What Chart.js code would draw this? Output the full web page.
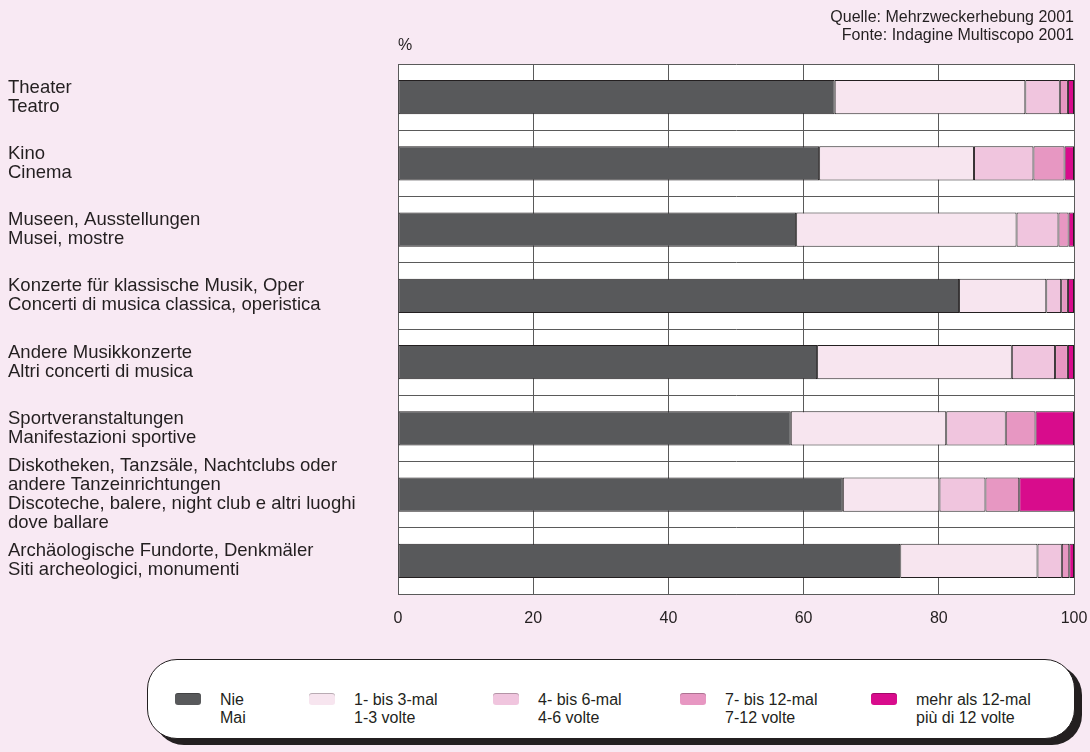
<!DOCTYPE html>
<html>
<head>
<meta charset="utf-8">
<script src="https://cdn.jsdelivr.net/npm/chart.js@4/dist/chart.umd.min.js"></script>
<style>
  html, body { margin: 0; padding: 0; }
  body {
    width: 1090px; height: 752px; position: relative; overflow: hidden;
    background: #f8e9f3; font-family: "Liberation Sans", Arial, sans-serif; color: #231f20;
  }
  #wrap { position: absolute; left: 0; top: 0; width: 1090px; height: 650px; }
  #source { position: absolute; right: 16px; top: 8px; text-align: right; font-size: 16px; line-height: 18px; }
  #unit { position: absolute; left: 398px; top: 36px; font-size: 16px; }
  #legend {
    position: absolute; left: 147px; top: 659px; width: 928px; height: 80px;
    background: #fff; border: 1.5px solid #231f20; border-radius: 30px;
    box-shadow: 7px 6px 0 #231f20;
    display: grid; grid-template-columns: 134px 184px 187px 191px auto;
    padding-left: 27px; box-sizing: border-box; align-items: start; padding-top: 31px;
  }
  .item { display: flex; align-items: flex-start; font-size: 16px; line-height: 18px; }
  .sw { width: 26px; height: 12px; border-radius: 3px; margin-top: 2px; margin-right: 19px;
        box-shadow: inset 0 1px 0 rgba(0,0,0,0.25); }
</style>
</head>
<body>
<div id="wrap"><canvas id="chart"></canvas></div>
<div id="unit">%</div>
<div id="source">Quelle: Mehrzweckerhebung 2001<br>Fonte: Indagine Multiscopo 2001</div>
<div id="legend"></div>
<script>
const categories = [
  ['Theater', 'Teatro'],
  ['Kino', 'Cinema'],
  ['Museen, Ausstellungen', 'Musei, mostre'],
  ['Konzerte für klassische Musik, Oper', 'Concerti di musica classica, operistica'],
  ['Andere Musikkonzerte', 'Altri concerti di musica'],
  ['Sportveranstaltungen', 'Manifestazioni sportive'],
  ['Diskotheken, Tanzsäle, Nachtclubs oder', 'andere Tanzeinrichtungen', 'Discoteche, balere, night club e altri luoghi', 'dove ballare'],
  ['Archäologische Fundorte, Denkmäler', 'Siti archeologici, monumenti']
];

const seriesLabels = [
  ['Nie', 'Mai'],
  ['1- bis 3-mal', '1-3 volte'],
  ['4- bis 6-mal', '4-6 volte'],
  ['7- bis 12-mal', '7-12 volte'],
  ['mehr als 12-mal', 'più di 12 volte']
];

const nie       = [64.6, 62.3, 58.9, 83.0, 62.0, 58.1, 65.8, 74.3];
const mal1to3   = [28.2, 22.9, 32.6, 12.9, 28.8, 23.0, 14.3, 20.3];
const mal4to6   = [5.1, 8.8, 6.2, 2.2, 6.4, 8.8, 6.8, 3.6];
const mal7to12  = [1.2, 4.6, 1.5, 1.0, 1.9, 4.4, 5.0, 1.1];
const mehrAls12 = [0.9, 1.4, 0.8, 0.9, 0.9, 5.7, 8.1, 0.7];

const xTicks = [0, 20, 40, 60, 80, 100];

const colors = ['#58595b', '#f7e5ef', '#f0c5de', '#e797c2', '#d80c8c'];
const values = [nie, mal1to3, mal4to6, mal7to12, mehrAls12];

const plotBackground = {
  id: 'plotBackground',
  beforeDraw(chart) {
    const { ctx, chartArea: a } = chart;
    ctx.save();
    ctx.fillStyle = '#ffffff';
    ctx.fillRect(a.left, a.top, a.right - a.left, a.bottom - a.top);
    ctx.restore();
  }
};

const chart = new Chart(document.getElementById('chart'), {
  type: 'bar',
  data: {
    labels: categories,
    datasets: values.map((v, i) => ({
      label: seriesLabels[i].join(' / '),
      data: v,
      backgroundColor: colors[i],
      borderColor: '#231f20',
      borderWidth: 1,
      borderSkipped: false,
      barPercentage: 0.515,
      categoryPercentage: 1
    }))
  },
  options: {
    indexAxis: 'y',
    responsive: true,
    maintainAspectRatio: false,
    animation: false,
    layout: { padding: { left: 8, right: 16, top: 64, bottom: 16 } },
    plugins: { legend: { display: false }, tooltip: { enabled: false } },
    scales: {
      x: {
        stacked: true,
        min: 0,
        max: 100,
        afterBuildTicks: s => { s.ticks = xTicks.map(v => ({ value: v })); },
        afterFit: s => { s.height = 40; s.paddingRight = 0; s.paddingLeft = 0; },
        grid: { color: '#5a5a5a', lineWidth: 1, drawTicks: false },
        border: { color: '#5a5a5a' },
        ticks: { padding: 15, color: '#231f20', font: { family: 'Liberation Sans', size: 16 } }
      },
      y: {
        stacked: true,
        afterFit: s => { s.width = 390; },
        grid: { offset: true, color: '#5a5a5a', lineWidth: 1, drawTicks: false },
        border: { color: '#5a5a5a' },
        ticks: {
          autoSkip: false,
          crossAlign: 'far',
          color: '#231f20',
          font: { family: 'Liberation Sans', size: 18.5, lineHeight: 1.03 }
        }
      }
    }
  },
  plugins: [plotBackground]
});

// legend built from the chart's datasets
const legend = document.getElementById('legend');
chart.data.datasets.forEach((ds, i) => {
  const item = document.createElement('div');
  item.className = 'item';
  const sw = document.createElement('span');
  sw.className = 'sw';
  sw.style.background = ds.backgroundColor;
  const txt = document.createElement('span');
  txt.innerHTML = seriesLabels[i].join('<br>');
  item.appendChild(sw);
  item.appendChild(txt);
  legend.appendChild(item);
});
</script>
</body>
</html>
